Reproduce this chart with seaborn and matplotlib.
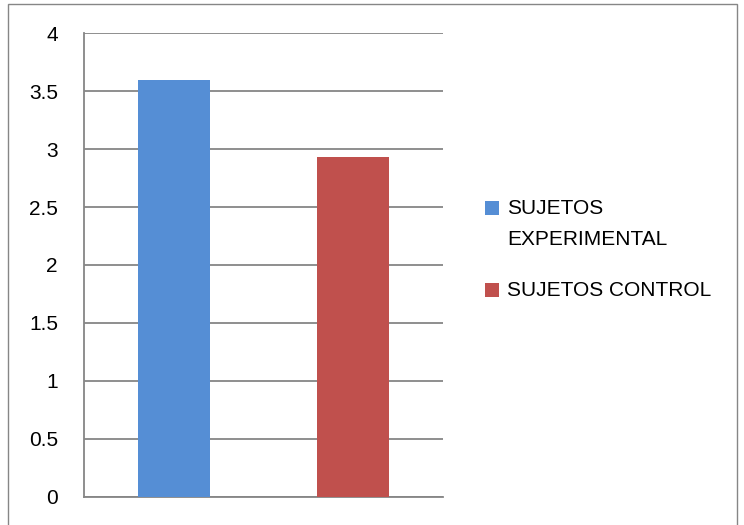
import matplotlib
matplotlib.use("Agg")
import matplotlib.pyplot as plt
import seaborn as sns
from matplotlib.patches import Rectangle

categories = ["SUJETOS EXPERIMENTAL", "SUJETOS CONTROL"]
values = [3.6, 2.93]
legend_lines = [["SUJETOS", "EXPERIMENTAL"], ["SUJETOS CONTROL"]]
yticks = [0, 0.5, 1, 1.5, 2, 2.5, 3, 3.5, 4]
ytick_labels = ["0", "0.5", "1", "1.5", "2", "2.5", "3", "3.5", "4"]
colors = ["#558ED5", "#C0504D"]

sns.set_theme(style="white")
plt.rcParams["font.family"] = ["Liberation Sans", "DejaVu Sans"]

W, H = 744, 525
FS = 15
fig = plt.figure(figsize=(W / 100, H / 100), dpi=100)
ax = fig.add_axes([84 / W, 1 - 496.7 / H, (443 - 84) / W, (496.7 - 33.3) / H])

sns.barplot(x=categories, y=values, hue=categories, palette=colors,
            width=0.4, legend=False, saturation=1, linewidth=0, ax=ax, zorder=3)

grid_c = "#868686"
ax.set_ylim(0, 4)
ax.set_xlim(-0.5, 1.5)
ax.set_yticks(yticks)
ax.set_yticklabels(ytick_labels, fontsize=FS, color="black")
ax.set_xticks([])
ax.set_xlabel("")
ax.set_ylabel("")
ax.yaxis.grid(True, color=grid_c, linewidth=1.3)
ax.set_axisbelow(True)
ax.tick_params(axis="y", direction="out", length=5.8, width=1.3, color=grid_c, pad=13)
for s in ["top", "right"]:
    ax.spines[s].set_visible(False)
for s in ["left", "bottom"]:
    ax.spines[s].set_color(grid_c)
    ax.spines[s].set_linewidth(1.3)

# outer frame
fig.patches.append(Rectangle((8 / W, -0.05), (737 - 8) / W, 0.05 + 1 - 4 / H,
                             transform=fig.transFigure, fill=False,
                             edgecolor=grid_c, linewidth=1.0))

# legend
entries = [(208, 32), (290, 32)]
for (cy, step), lines, c in zip(entries, legend_lines, colors):
    fig.patches.append(Rectangle((485 / W, 1 - (cy + 7) / H), 14 / W, 14 / H,
                                 transform=fig.transFigure, facecolor=c,
                                 edgecolor="none"))
    for i, line in enumerate(lines):
        fig.text(507 / W, 1 - (cy + i * step) / H, line, fontsize=FS,
                 va="center", ha="left", color="black")

fig.savefig("out.png", dpi=100)
